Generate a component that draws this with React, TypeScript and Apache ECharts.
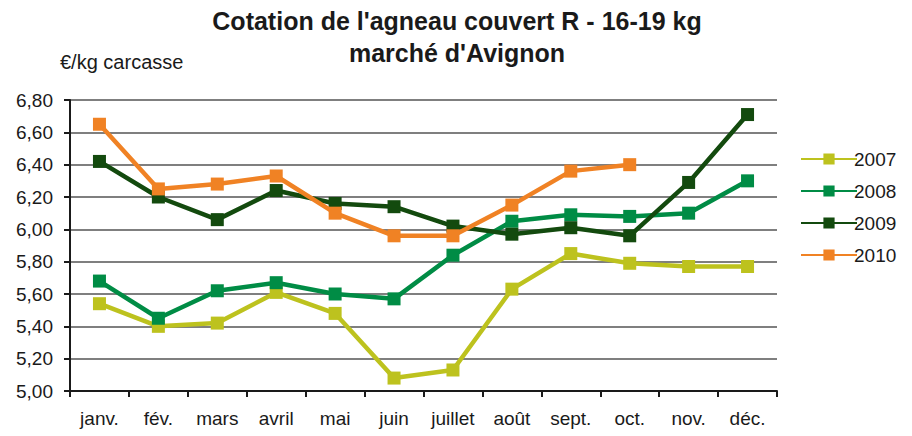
import React, { useEffect, useRef } from "react";
import * as echarts from "echarts";

const months = ["janv.", "fév.", "mars", "avril", "mai", "juin", "juillet", "août", "sept.", "oct.", "nov.", "déc."];
const s2007 = [5.54, 5.40, 5.42, 5.61, 5.48, 5.08, 5.13, 5.63, 5.85, 5.79, 5.77, 5.77];
const s2008 = [5.68, 5.45, 5.62, 5.67, 5.60, 5.57, 5.84, 6.05, 6.09, 6.08, 6.10, 6.30];
const s2009 = [6.42, 6.20, 6.06, 6.24, 6.16, 6.14, 6.02, 5.97, 6.01, 5.96, 6.29, 6.71];
const s2010 = [6.65, 6.25, 6.28, 6.33, 6.10, 5.96, 5.96, 6.15, 6.36, 6.40, null, null];
const seriesNames = ["2007", "2008", "2009", "2010"];
const colors = ["#BDC21E", "#008C45", "#134A0E", "#F08224"];

export default function App() {
  const ref = useRef<HTMLDivElement>(null);
  useEffect(() => {
    const chart = echarts.init(ref.current!, null, { renderer: "svg" });
    const data = [s2007, s2008, s2009, s2010];
    const font = "Liberation Sans, Arial, sans-serif";
    chart.setOption({
      animation: false,
      textStyle: { fontFamily: font },
      title: [
        {
          text: "Cotation de l'agneau couvert R - 16-19 kg\nmarché d'Avignon",
          left: 452,
          top: 0,
          textAlign: "center",
          textStyle: { fontSize: 25, fontWeight: "bold", color: "#1a1a1a", lineHeight: 32, fontFamily: font },
        },
        {
          text: "€/kg carcasse",
          left: 55,
          top: 47,
          textStyle: { fontSize: 20, fontWeight: "normal", color: "#1a1a1a", fontFamily: font },
        },
      ],
      legend: {
        orient: "vertical",
        left: 795,
        top: 144,
        itemWidth: 56,
        itemHeight: 14,
        itemGap: 12,
        textStyle: { fontSize: 19, lineHeight: 20, color: "#1a1a1a", fontFamily: font, padding: [0, 0, 0, -8] },
        data: seriesNames,
      },
      grid: { left: 70, right: 135, top: 100, bottom: 45 },
      xAxis: {
        type: "category",
        data: months,
        boundaryGap: true,
        axisLine: { lineStyle: { color: "#1a1a1a", width: 2 } },
        axisTick: { show: true, length: 6, lineStyle: { color: "#1a1a1a", width: 2 } },
        axisLabel: { fontSize: 19, color: "#1a1a1a", margin: 18, fontFamily: font },
      },
      yAxis: {
        type: "value",
        min: 5,
        max: 6.8,
        interval: 0.2,
        axisLine: { show: true, lineStyle: { color: "#1a1a1a", width: 2 } },
        axisTick: { show: true, length: 6, lineStyle: { color: "#1a1a1a", width: 2 } },
        axisLabel: {
          fontSize: 19,
          color: "#1a1a1a",
          margin: 17,
          fontFamily: font,
          formatter: (v: number) => v.toFixed(2).replace(".", ","),
        },
        splitLine: { show: true, lineStyle: { color: "#555", width: 1.5 } },
      },
      series: seriesNames.map((name, i) => ({
        name,
        type: "line",
        data: data[i],
        color: colors[i],
        symbol: "rect",
        symbolSize: 13,
        lineStyle: { width: 4.5, color: colors[i] },
        itemStyle: { color: colors[i] },
        connectNulls: false,
        z: 2 + i,
      })),
    });
    return () => chart.dispose();
  }, []);
  return <div ref={ref} style={{ width: 912, height: 436, position: "absolute", left: 0, top: 0 }} />;
}
